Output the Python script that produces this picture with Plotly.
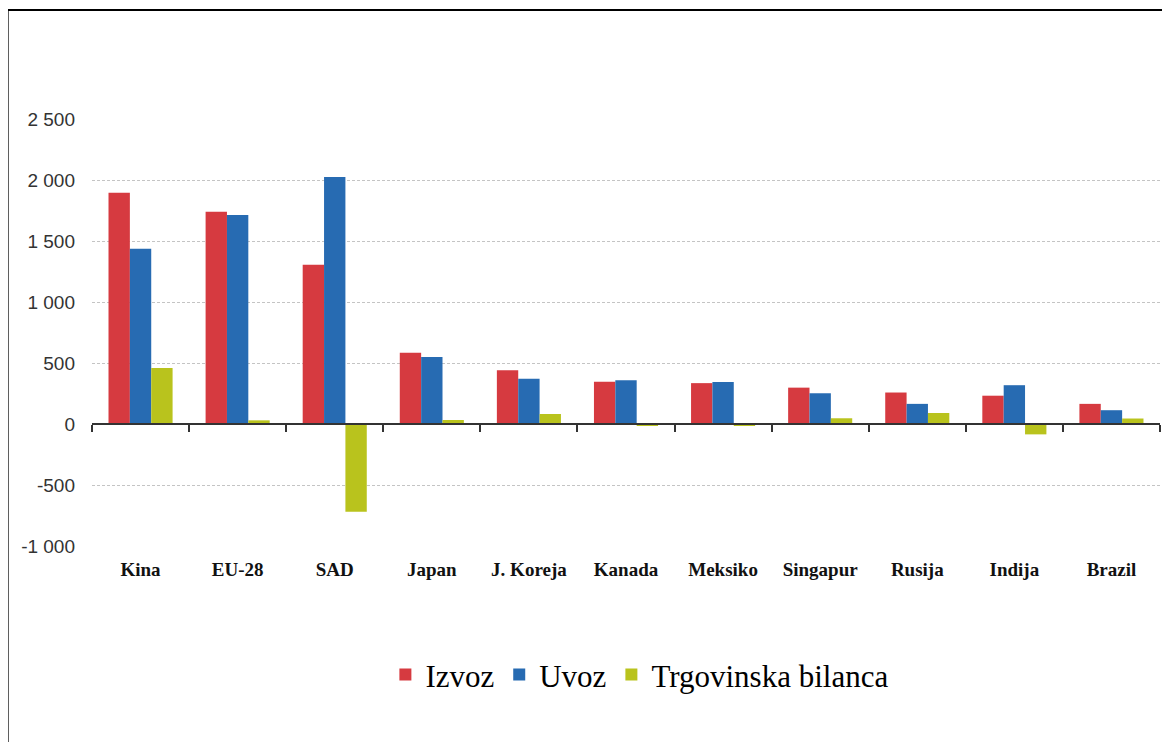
import plotly.graph_objects as go

categories = ["Kina", "EU-28", "SAD", "Japan", "J. Koreja", "Kanada", "Meksiko",
              "Singapur", "Rusija", "Indija", "Brazil"]
izvoz = [1895, 1740, 1305, 585, 440, 347, 335, 298, 258, 232, 165]
uvoz = [1437, 1714, 2025, 550, 370, 358, 345, 252, 165, 318, 113]
bilanca = [458, 30, -720, 33, 82, -12, -10, 47, 90, -85, 45]

ytick_vals = [-1000, -500, 0, 500, 1000, 1500, 2000, 2500]
ytick_text = ["-1 000", "-500", "0", "500", "1 000", "1 500", "2 000", "2 500"]

series_names = ["Izvoz", "Uvoz", "Trgovinska bilanca"]
colors = ["#D63A40", "#276BB2", "#B9C31D"]

fig = go.Figure()
for name, vals, col in zip(series_names, [izvoz, uvoz, bilanca], colors):
    fig.add_trace(go.Bar(x=categories, y=vals, name=name, marker_color=col,
                         marker_line_width=0))

# helper trace so the zero-positioned axis with boundary ticks has categories
fig.add_trace(go.Scatter(x=categories, y=[None] * len(categories), xaxis="x2",
                         mode="markers", showlegend=False, hoverinfo="skip"))

ymin, ymax = -1000, 2500
zero_pos = (0 - ymin) / (ymax - ymin)

fig.update_layout(
    width=1170, height=742,
    margin=dict(l=84, r=18, t=111, b=204),
    paper_bgcolor="white", plot_bgcolor="white",
    barmode="group", bargap=0.34, bargroupgap=0,
    xaxis=dict(type="category", categoryorder="array", categoryarray=categories,
               range=[-0.5, len(categories) - 0.5], showline=False, showgrid=False,
               ticks="", zeroline=False,
               tickfont=dict(family="Liberation Serif", size=19, color="#111",
                             weight="bold"),
               ticklabelstandoff=10),
    xaxis2=dict(type="category", categoryorder="array", categoryarray=categories,
                range=[-0.5, len(categories) - 0.5], overlaying="x",
                anchor="free", position=zero_pos, side="bottom",
                showline=True, linecolor="#333", linewidth=1.5,
                ticks="outside", tickson="boundaries", ticklen=7, tickwidth=1.5,
                tickcolor="#333", showticklabels=False, showgrid=False, zeroline=False),
    yaxis=dict(range=[ymin, ymax], tickvals=ytick_vals, ticktext=ytick_text,
               showgrid=True, gridcolor="#C4C4C4", griddash="3px,2px", gridwidth=1,
               zeroline=False, showline=False, ticks="",
               tickfont=dict(family="Liberation Sans", size=19, color="#333"),
               ticklabelstandoff=16),
    legend=dict(orientation="h", x=0.513, xanchor="center", y=-0.302, yanchor="middle",
                font=dict(family="Liberation Serif", size=31, color="black"),
                itemwidth=30, tracegroupgap=0),
    showlegend=True,
)

# outer frame (top and left border of the original graphic)
fig.add_shape(type="rect", xref="paper", yref="paper",
              x0=-0.079, x1=1.03, y0=-0.5, y1=1.2553,
              line=dict(color="black", width=2), fillcolor="rgba(0,0,0,0)", layer="above")

fig.write_html("out.html")
